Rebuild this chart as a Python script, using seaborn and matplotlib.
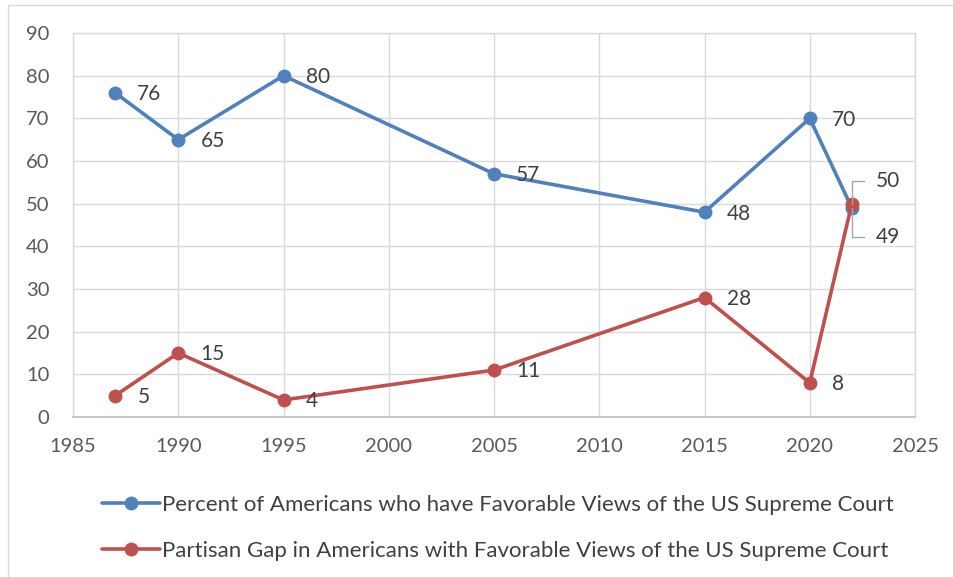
import matplotlib
matplotlib.use("Agg")
import matplotlib.pyplot as plt
import seaborn as sns
import pandas as pd
from matplotlib.patches import Rectangle

years = [1987, 1990, 1995, 2005, 2015, 2020, 2022]
favorable = [76, 65, 80, 57, 48, 70, 49]
partisan_gap = [5, 15, 4, 11, 28, 8, 50]
series_names = ["Percent of Americans who have Favorable Views of the US Supreme Court",
                "Partisan Gap in Americans with Favorable Views of the US Supreme Court"]
colors = ["#4F81BD", "#C0504D"]
x_ticks = [1985, 1990, 1995, 2000, 2005, 2010, 2015, 2020, 2025]
y_ticks = [0, 10, 20, 30, 40, 50, 60, 70, 80, 90]

sns.set_style("white")
plt.rcParams['font.family'] = ['Lato', 'DejaVu Sans']

df = pd.DataFrame({
    "year": years * 2,
    "value": favorable + partisan_gap,
    "series": [series_names[0]] * len(years) + [series_names[1]] * len(years),
})

fig = plt.figure(figsize=(9.54, 5.77), dpi=100)
ax = fig.add_axes([73/954, 1-417/577, (915-73)/954, (417-33)/577])

sns.lineplot(data=df, x="year", y="value", hue="series", palette=colors,
             marker="o", markersize=10, markeredgewidth=0, linewidth=2.6,
             ax=ax, legend=True)

ax.set_xlim(1985, 2025)
ax.set_ylim(0, 90)
ax.set_xticks(x_ticks)
ax.set_yticks(y_ticks)
ax.set_xlabel("")
ax.set_ylabel("")
ax.grid(True, color="#D9D9D9", linewidth=1)
ax.set_axisbelow(True)
for s in ["left", "right", "top"]:
    ax.spines[s].set_color("#D9D9D9")
    ax.spines[s].set_linewidth(1)
ax.spines["bottom"].set_color("#BFBFBF")
ax.spines["bottom"].set_linewidth(1.2)
ax.tick_params(axis="both", length=0, labelsize=14.5, labelcolor="#595959")
ax.tick_params(axis="x", pad=15)
ax.tick_params(axis="y", pad=17)

# data labels
lab_color = "#404040"
lab_size = 15
for vals in (favorable, partisan_gap):
    for i, (x, y) in enumerate(zip(years, vals)):
        if x == years[-1]:
            continue
        ax.annotate(str(y), (x, y), xytext=(16, -1), textcoords="offset points",
                    ha="left", va="center", fontsize=lab_size, color=lab_color)

# last point labels with leader lines
last_x = years[-1]
ax.annotate(str(partisan_gap[-1]), (last_x, partisan_gap[-1]), xytext=(17, 16),
            textcoords="offset points", ha="left", va="center", fontsize=lab_size,
            color=lab_color,
            arrowprops=dict(arrowstyle="-", color="#A6A6A6", lw=1,
                            connectionstyle="angle,angleA=0,angleB=90,rad=0",
                            relpos=(0, 0.5), shrinkA=6, shrinkB=0))
ax.annotate(str(favorable[-1]), (last_x, favorable[-1]), xytext=(17, -21),
            textcoords="offset points", ha="left", va="center", fontsize=lab_size,
            color=lab_color,
            arrowprops=dict(arrowstyle="-", color="#A6A6A6", lw=1,
                            connectionstyle="angle,angleA=0,angleB=90,rad=0",
                            relpos=(0, 0.5), shrinkA=6, shrinkB=0))

leg = ax.legend(loc="upper center", bbox_to_anchor=(0.505, -0.15), ncol=1,
                frameon=False, fontsize=16, handlelength=2.6, handletextpad=0.1,
                labelspacing=1.2, labelcolor="#404040")

fig.patches.append(Rectangle((8/954, -0.1), 1.0, 1.1 - 5/577, transform=fig.transFigure,
                             fill=False, edgecolor="#D9D9D9", linewidth=1))

fig.savefig("out.png", dpi=100)
